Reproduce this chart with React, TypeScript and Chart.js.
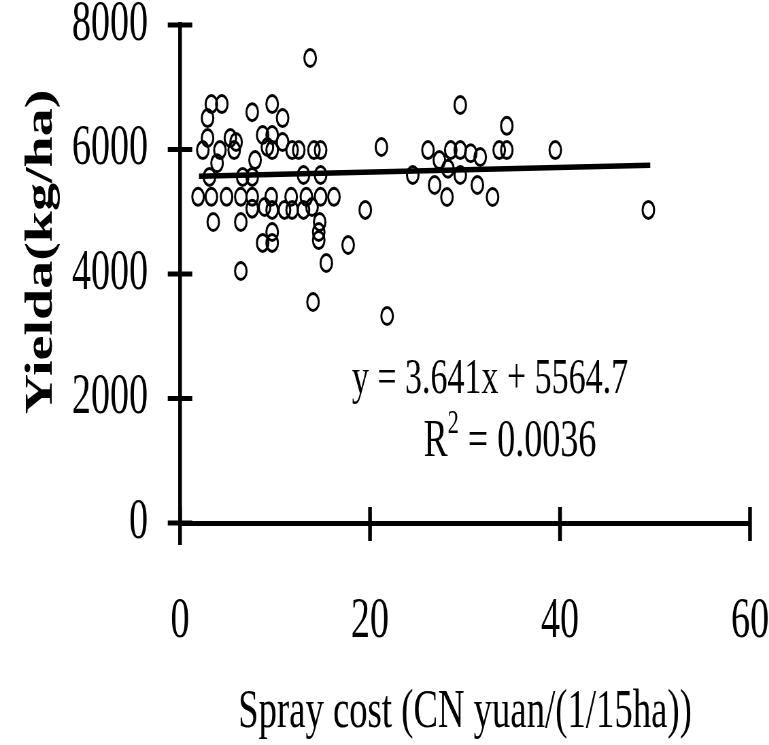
import React, { useEffect, useRef } from "react";
import { Chart, registerables } from "chart.js";

Chart.register(...registerables);

// ---- data ----
const sprayCost = [
  13.7, 3.3, 4.4, 2.9, 7.6, 9.7, 10.8, 2.9, 5.3, 5.9, 8.7, 9.7, 10.8,
  2.4, 4.2, 5.7, 9.2, 9.7, 11.8, 12.5, 14.1, 14.8, 7.9, 3.9, 3.1, 6.6,
  7.6, 13.0, 14.8, 1.9, 3.3, 4.9, 6.4, 7.6, 9.6, 11.7, 13.3, 14.8, 16.2,
  7.6, 8.9, 9.7, 11.0, 11.8, 13.0, 13.9, 3.5, 6.4, 14.7, 9.7, 14.6, 14.6,
  8.7, 9.7, 17.7, 15.4, 6.4, 14.0, 21.2, 19.5, 26.1, 27.3, 28.5, 29.5,
  30.6, 31.6, 33.6, 34.4, 34.4, 29.5, 24.5, 28.2, 29.5, 26.8, 28.1, 31.3,
  32.9, 39.5, 49.3, 21.8,
];
const yieldValues = [
  7470, 6730, 6730, 6505, 6600, 6730, 6505, 6185, 6185, 6120, 6233, 6233, 6120,
  5990, 5990, 5990, 6040, 5990, 5990, 5990, 5990, 5990, 5830, 5780, 5560, 5560,
  5560, 5590, 5590, 5240, 5240, 5240, 5240, 5240, 5240, 5240, 5240, 5240, 5240,
  5050, 5076, 5030, 5030, 5030, 5030, 5076, 4835, 4835, 4835, 4675, 4675, 4545,
  4500, 4500, 4466, 4177, 4048, 3550, 6040, 5030, 5990, 5830, 5990, 5990,
  5940, 5880, 5990, 5990, 6380, 6715, 5590, 5690, 5590, 5430, 5237, 5430,
  5237, 5990, 5030, 3325,
];
const trendX = [2, 49.5];
const trendY = [5572, 5745];
const xTicks = [0, 20, 40, 60];
const yTicks = [0, 2000, 4000, 6000, 8000];
const xTitle = "Spray cost (CN yuan/(1/15ha))";
const yTitle = "Yielda(kg/ha)";
const equationText = "y = 3.641x + 5564.7";
const r2Base = "R";
const r2Sup = "2";
const r2Rest = " = 0.0036";

// ---- layout ----
const S = 0.68; // horizontal squeeze of the whole picture
const W = 1150;
const H = 745;
const FONT = '"Liberation Serif", "Times New Roman", serif';

const decorPlugin = {
  id: "decor",
  afterDraw(chart: any) {
    const { ctx } = chart;
    const xs = chart.scales.x;
    const ys = chart.scales.y;
    ctx.save();
    ctx.strokeStyle = "#000";
    ctx.fillStyle = "#000";
    ctx.lineCap = "butt";
    // y tick marks crossing the axis
    ctx.lineWidth = 5;
    for (const v of yTicks) {
      const py = ys.getPixelForValue(v);
      ctx.beginPath();
      ctx.moveTo(xs.left - 18, py);
      ctx.lineTo(xs.left + 18, py);
      ctx.stroke();
    }
    // x tick marks crossing the axis
    ctx.lineWidth = 5.5;
    for (const v of xTicks) {
      const px = xs.getPixelForValue(v);
      ctx.beginPath();
      ctx.moveTo(px, ys.bottom - 16);
      ctx.lineTo(px, ys.bottom + (v === 0 ? 22 : 18));
      ctx.stroke();
    }
    // y title (rotated, bold)
    ctx.save();
    ctx.translate(42 / S, 252);
    ctx.rotate(-Math.PI / 2);
    ctx.font = `bold 56px ${FONT}`;
    ctx.textAlign = "center";
    ctx.textBaseline = "middle";
    ctx.fillText(yTitle, 0, 0);
    ctx.restore();
    // regression annotation
    ctx.font = `50px ${FONT}`;
    ctx.textAlign = "center";
    ctx.textBaseline = "middle";
    ctx.fillText(equationText, 490 / S, 380);
    ctx.textAlign = "left";
    ctx.font = `53px ${FONT}`;
    const wR = ctx.measureText(r2Base).width;
    const wRest = ctx.measureText(r2Rest).width;
    ctx.font = `33px ${FONT}`;
    const wSup = ctx.measureText(r2Sup).width;
    const total = wR + wSup + wRest;
    let sx = 510 / S - total / 2;
    ctx.font = `53px ${FONT}`;
    ctx.fillText(r2Base, sx, 442);
    sx += wR;
    ctx.font = `33px ${FONT}`;
    ctx.fillText(r2Sup, sx, 424);
    sx += wSup;
    ctx.font = `53px ${FONT}`;
    ctx.fillText(r2Rest, sx, 442);
    ctx.restore();
  },
};

export default function App() {
  const ref = useRef<HTMLCanvasElement>(null);

  useEffect(() => {
    if (!ref.current) return;
    const points = sprayCost.map((x, i) => ({ x, y: yieldValues[i] }));
    const trend = trendX.map((x, i) => ({ x, y: trendY[i] }));
    const chart = new Chart(ref.current, {
      type: "scatter",
      data: {
        datasets: [
          {
            type: "line",
            label: "trend",
            data: trend,
            borderColor: "#000",
            borderWidth: 5.5,
            pointRadius: 0,
            fill: false,
            order: 0,
          } as any,
          {
            label: "Yield",
            data: points,
            pointStyle: "circle",
            pointRadius: 8.5,
            pointBorderWidth: 3,
            pointBorderColor: "#000",
            pointBackgroundColor: "rgba(255,255,255,0)",
            order: 1,
          },
        ],
      },
      options: {
        animation: false,
        responsive: false,
        maintainAspectRatio: false,
        devicePixelRatio: 1,
        layout: { padding: { left: 0, top: 25, right: W - 750 / S, bottom: 0 } },
        plugins: { legend: { display: false }, tooltip: { enabled: false } },
        scales: {
          x: {
            type: "linear",
            min: 0,
            max: 60,
            afterBuildTicks: (s: any) => {
              s.ticks = xTicks.map((v) => ({ value: v }));
            },
            afterFit: (s: any) => {
              s.height = H - 523;
            },
            grid: { display: false, drawTicks: true, tickLength: 66 },
            border: { display: true, color: "#000", width: 5 },
            ticks: {
              color: "#000",
              padding: 0,
              font: { family: FONT, size: 56 },
              callback: (v: any) => String(v),
            },
            title: {
              display: true,
              text: xTitle,
              color: "#000",
              padding: 0,
              font: { family: FONT, size: 54 },
            },
          },
          y: {
            type: "linear",
            min: 0,
            max: 8000,
            afterBuildTicks: (s: any) => {
              s.ticks = yTicks.map((v) => ({ value: v }));
            },
            afterFit: (s: any) => {
              s.width = 180 / S;
            },
            grid: { display: false, drawTicks: true, tickLength: 47 },
            border: { display: true, color: "#000", width: 5.5 },
            ticks: {
              color: "#000",
              padding: 0,
              font: { family: FONT, size: 56, lineHeight: 0.8 },
              callback: (v: any) => String(v),
            },
            title: { display: false },
          },
        },
      },
      plugins: [decorPlugin],
    });
    return () => chart.destroy();
  }, []);

  return (
    <div
      style={{
        position: "fixed",
        left: 0,
        top: 0,
        width: 769,
        height: H,
        overflow: "hidden",
        background: "#fff",
      }}
    >
      <div style={{ width: W, height: H, transform: `scaleX(${S})`, transformOrigin: "0 0" }}>
        <canvas ref={ref} width={W} height={H} style={{ display: "block", width: W, height: H }} />
      </div>
    </div>
  );
}
